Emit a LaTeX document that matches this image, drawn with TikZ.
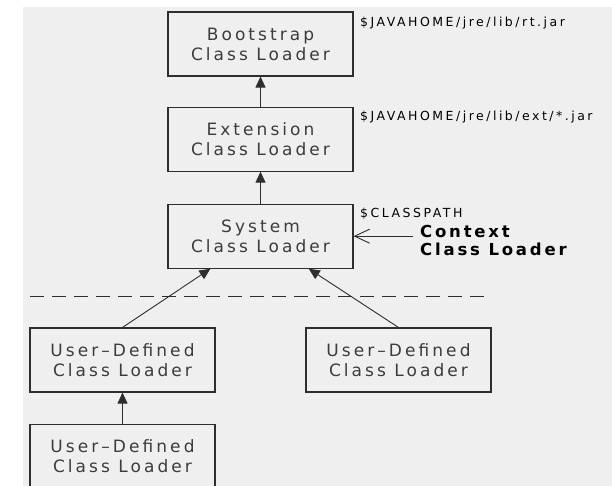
\documentclass[tikz,border=0pt]{standalone}
\usepackage{fontspec}
\setmainfont{DejaVu Sans}
\newfontfamily\boxfont[LetterSpace=18]{DejaVu Sans}
\newfontfamily\pathfont[LetterSpace=20]{DejaVu Sans}
\newfontfamily\ctxfont[LetterSpace=17]{DejaVu Sans}
\definecolor{panel}{HTML}{EFEFEF}
\definecolor{boxline}{HTML}{2E2E2E}
\definecolor{boxtext}{HTML}{3C3C3C}
\usetikzlibrary{arrows.meta, positioning}

\begin{document}
\begin{tikzpicture}[
    x=1pt, y=1pt,
    loader/.style={draw=boxline, line width=1.1pt, minimum width=185pt, minimum height=64pt, inner sep=0pt, align=center, text=boxtext, font=\boxfont\fontsize{17}{20}\selectfont},
    jarpath/.style={anchor=west, inner sep=0pt, font=\pathfont\fontsize{12.5}{13}\selectfont},
    arr/.style={-{Triangle[length=11pt, width=10pt]}, line width=0.9pt, draw=boxline},
    ctxarr/.style={-{Straight Barb[length=15pt, width=14pt]}, line width=0.9pt, draw=boxline},
    divider/.style={dash pattern=on 14pt off 8pt, line width=0.9pt, draw=boxline},
    node distance=30pt,
  ]
  \useasboundingbox (0,0) rectangle (612,-486);
  \fill[panel] (23,-7) rectangle (612,-486);
  % delegation chain
  \node[loader] (boot) at (260.5,-44) {Bootstrap\\Class Loader};
  \node[loader, below=30pt of boot] (ext) {Extension\\Class Loader};
  \node[loader, below=32pt of ext]  (sys) {System\\Class Loader};
  \node[loader] (userA) at (122.5,-360) {User–Defined\\Class Loader};
  \node[loader] (userB) at (398.5,-360) {User–Defined\\Class Loader};
  \node[loader, below=31pt of userA] (userC) {User–Defined\\Class Loader};
  \draw[arr] (ext)   -- (boot);
  \draw[arr] (sys)   -- (ext);
  \draw[arr] (userA.north) -- (sys.213.5);
  \draw[arr] (userB.north) -- (sys.326.5);
  \draw[arr] (userC) -- (userA);
  % where each loader looks
  \node[jarpath] (rtjar)  at (360,-23)  {\$JAVAHOME/jre/lib/rt.jar};
  \node[jarpath] (extjar) at (360,-117) {\$JAVAHOME/jre/lib/ext/*.jar};
  \node[jarpath] (cpath)  at (360,-214) {\$CLASSPATH};
  \node[anchor=north west, inner sep=0pt, align=left, font=\ctxfont\bfseries\fontsize{16.5}{18}\selectfont] (ctx) at (420,-225) {Context\\Class Loader};
  \draw[ctxarr] (ctx.west |- sys.east) ++(-7,0) -- (sys.east);
  % trusted / user boundary
  \coordinate (sepL) at (30,-296);
  \coordinate (sepR) at (490,-296);
  \draw[divider] (sepL) -- (sepR);
\end{tikzpicture}
\end{document}
